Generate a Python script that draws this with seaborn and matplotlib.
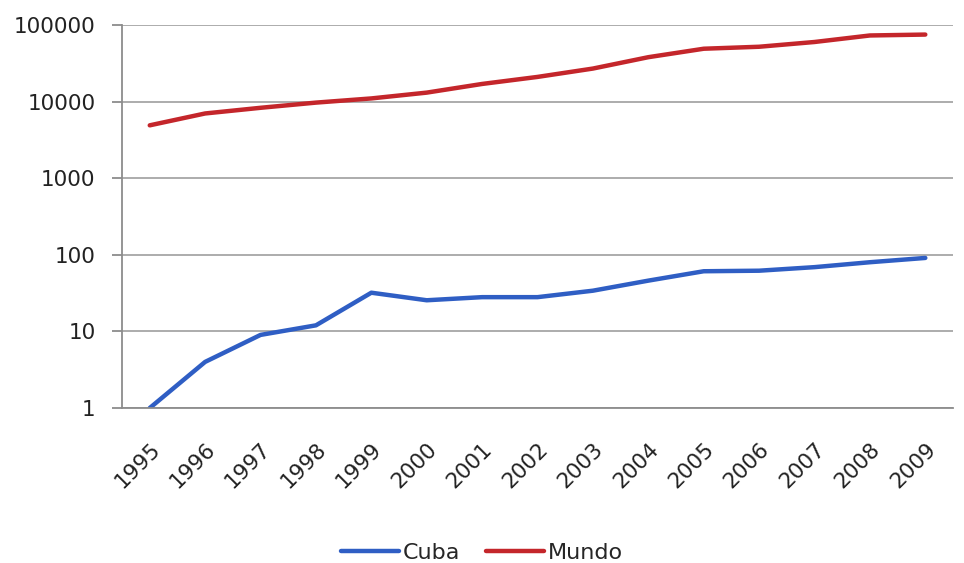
import matplotlib
matplotlib.use("Agg")
import matplotlib.pyplot as plt
import matplotlib.transforms as mtransforms
from matplotlib.ticker import FixedLocator, NullFormatter
import seaborn as sns
import pandas as pd

years = ["1995", "1996", "1997", "1998", "1999", "2000", "2001", "2002",
         "2003", "2004", "2005", "2006", "2007", "2008", "2009"]
cuba = [1, 4.0, 9.0, 12, 32, 25.5, 28, 28, 34, 46, 61, 62, 69, 80, 91]
mundo = [4900, 7000, 8300, 9700, 11000, 13100, 17000, 21000, 27000,
         38000, 49000, 52000, 60000, 73000, 75000]
series = ["Cuba", "Mundo"]
colors = {"Cuba": "#2F5EC4", "Mundo": "#C4262B"}
yticks = [1, 10, 100, 1000, 10000, 100000]

df = pd.DataFrame({
    "year": years * 2,
    "value": cuba + mundo,
    "serie": [series[0]] * len(years) + [series[1]] * len(years),
})

sns.set_theme(style="white")
plt.rcParams["font.family"] = ["DejaVu Sans"]

fig = plt.figure(figsize=(9.64, 5.63), dpi=100)
ax = fig.add_axes([0.1266, 0.2753, 0.862, 0.6803])

sns.lineplot(data=df, x="year", y="value", hue="serie", palette=colors,
             linewidth=3.2, ax=ax, legend=False, solid_capstyle="round")

ax.set_yscale("log")
ax.set_ylim(1, 100000)
ax.set_xlim(-0.5, len(years) - 0.5)
ax.yaxis.set_major_locator(FixedLocator(yticks))
ax.set_yticklabels([str(v) for v in yticks], fontsize=15.5, color="#222222")
ax.yaxis.set_minor_formatter(NullFormatter())
ax.yaxis.set_minor_locator(FixedLocator([]))
ax.grid(axis="y", color="#A6A6A6", linewidth=1.3)
ax.set_axisbelow(True)

ax.set_xticks(range(len(years)))
ax.set_xticklabels(years, rotation=45, ha="right", rotation_mode="anchor",
                   fontsize=15.5, color="#222222")
offset = mtransforms.ScaledTranslation(-5 / 100, 0, fig.dpi_scale_trans)
for lab in ax.get_xticklabels():
    lab.set_transform(lab.get_transform() + offset)
ax.xaxis.set_minor_locator(FixedLocator([i - 0.5 for i in range(len(years) + 1)]))
ax.tick_params(axis="x", which="major", length=0, pad=22)
ax.tick_params(axis="x", which="minor", length=7, width=1.3, color="#8C8C8C", direction="out")
ax.tick_params(axis="y", which="major", length=7, width=1.3, color="#8C8C8C", pad=12, left=True)

for s in ["top", "right"]:
    ax.spines[s].set_visible(False)
for s in ["left", "bottom"]:
    ax.spines[s].set_color("#8C8C8C")
    ax.spines[s].set_linewidth(1.3)

ax.set_xlabel("")
ax.set_ylabel("")

handles = [plt.Line2D([], [], color=colors[s], linewidth=3.2) for s in series]
fig.legend(handles, series, loc="center", bbox_to_anchor=(0.5, 0.018),
           ncol=2, frameon=False, fontsize=16, handlelength=2.6,
           handletextpad=0.15, columnspacing=1.2)

fig.savefig("out.png", dpi=100)
